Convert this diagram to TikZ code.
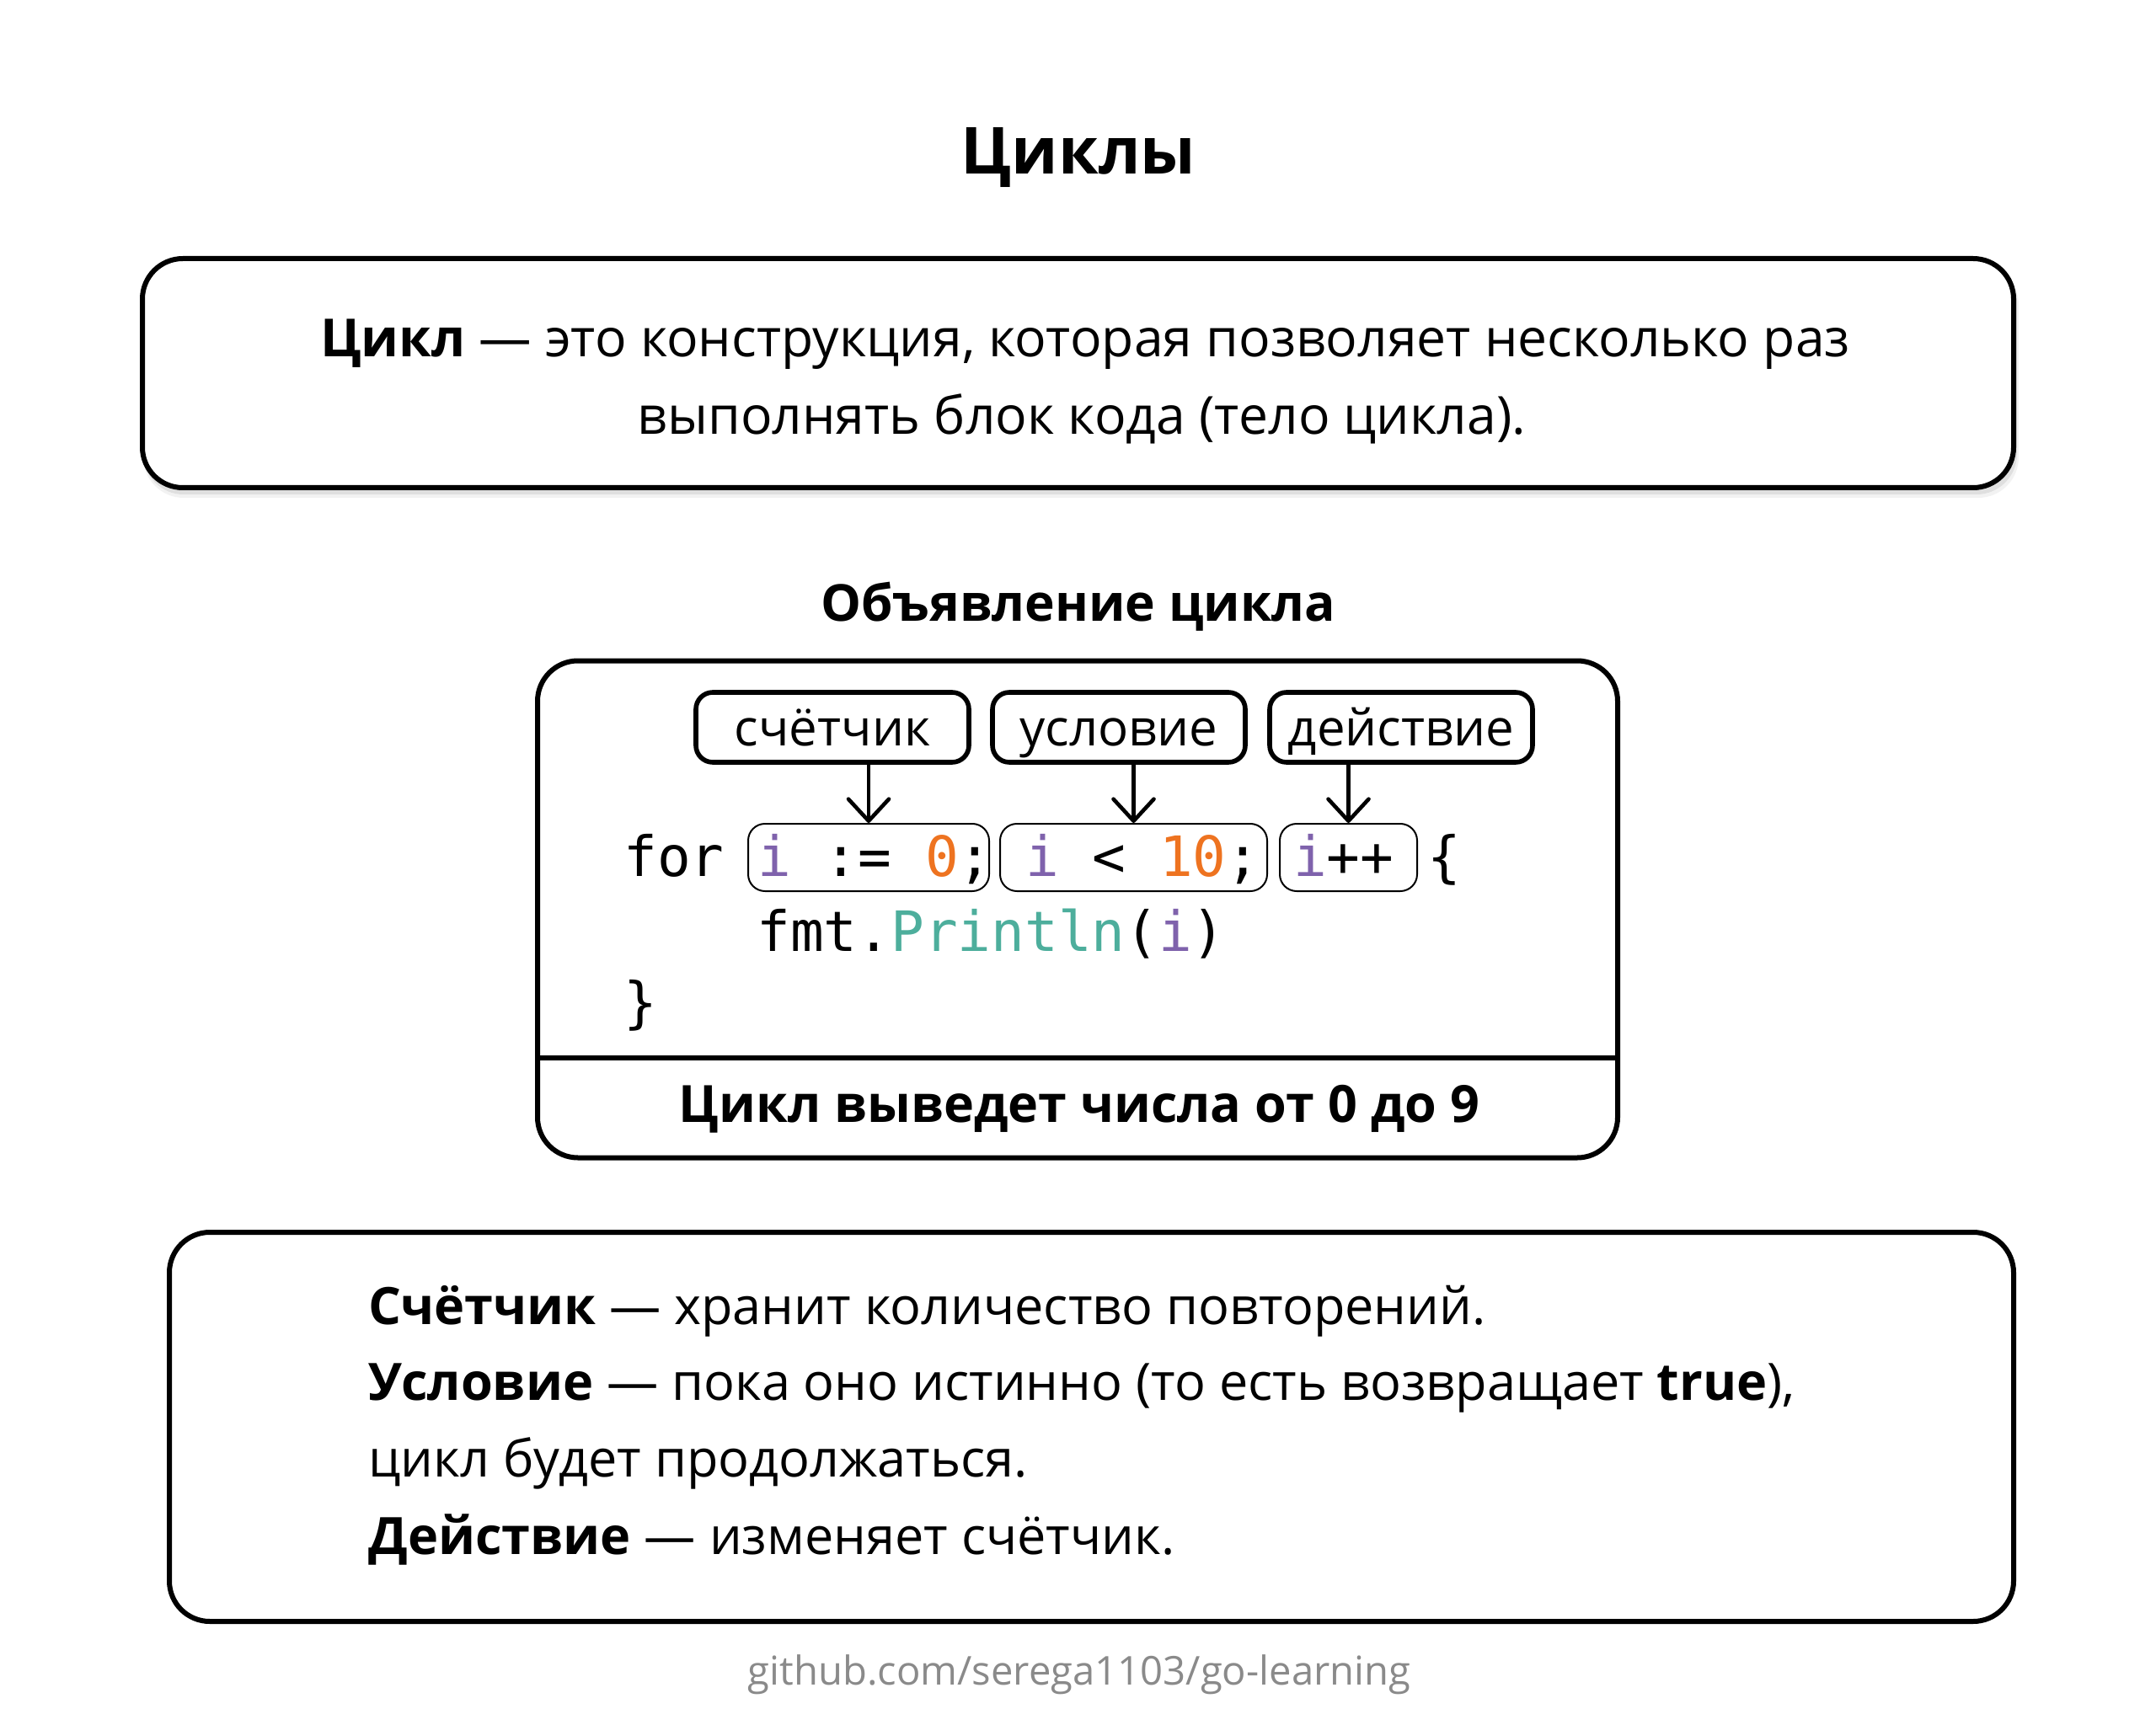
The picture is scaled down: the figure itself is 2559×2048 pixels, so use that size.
\documentclass[tikz,border=0pt]{standalone}
\usepackage{fontspec}
\setmainfont{Open Sans}
\newfontfamily\codefont{DejaVu Sans Mono}
\usetikzlibrary{arrows.meta}
\definecolor{cpurple}{HTML}{7F62AC}
\definecolor{corange}{HTML}{EE7320}
\definecolor{cteal}{HTML}{4DAE9C}
\definecolor{cgray}{HTML}{8A8A8A}
\begin{document}
\begin{tikzpicture}[x=0.5pt,y=-0.5pt,
  bigbox/.style={draw=black,line width=3pt,rounded corners=24pt,fill=white,inner sep=0pt},
  lblbox/.style={draw=black,line width=2.8pt,rounded corners=10pt,inner sep=0pt,minimum height=41.5pt},
  pill/.style={draw=black,line width=1pt,rounded corners=10pt,inner sep=0pt,minimum height=40pt},
  arr/.style={line width=2.3pt,-{Straight Barb[length=13pt,width=24pt,line width=2.3pt,round]}},
  txt/.style={inner sep=0pt,anchor=base,font=\fontsize{31.2}{37}\selectfont},
  btxt/.style={inner sep=0pt,anchor=base west,font=\fontsize{30.6}{37}\selectfont},
  lbl/.style={inner sep=0pt,anchor=base,font=\fontsize{30}{36}\selectfont},
  code/.style={inner sep=0pt,anchor=base west,font=\codefont\fontsize{33}{40}\selectfont}]
\useasboundingbox (0,0) rectangle (2559,2048);
\fill[white] (0,0) rectangle (2559,2048);
% title
\node[inner sep=0pt,anchor=base,font=\bfseries\fontsize{38.5}{46}\selectfont] (title) at (1280,207) {Циклы};
% top box with soft shadow
\fill[black,opacity=0.05,rounded corners=24pt] (170,314) rectangle (2396,591);
\fill[black,opacity=0.08,rounded corners=24pt] (170,311) rectangle (2394,587);
\node[bigbox,minimum width=1110.5pt,minimum height=136pt] (topbox) at (1279.5,443) {};
\node[txt] (t1) at (1288,424) {\textbf{Цикл} — это конструкция, которая позволяет несколько раз};
\node[txt] (t2) at (1284,516) {выполнять блок кода (тело цикла).};
% section title
\node[inner sep=0pt,anchor=base,font=\bfseries\fontsize{30.2}{36}\selectfont] (sect) at (1280,737) {Объявление цикла};
% code box
\node[bigbox,minimum width=641pt,minimum height=295pt] (codebox) at (1279,1079.5) {};
\coordinate (sepy) at (0,1256);
\draw[line width=3pt] (codebox.west |- sepy) -- (codebox.east |- sepy);
\node[inner sep=0pt,anchor=base,font=\bfseries\fontsize{30.5}{36}\selectfont] (result) at (1281,1332) {Цикл выведет числа от 0 до 9};
% labels
\node[lblbox,minimum width=162pt] (l1) at (988,863.5) {};
\node[lblbox,minimum width=150pt] (l2) at (1328,863.5) {};
\node[lblbox,minimum width=156pt] (l3) at (1663,863.5) {};
\node[lbl] (l1t) at (988,885) {счётчик};
\node[lbl] (l2t) at (1328,885) {условие};
\node[lbl] (l3t) at (1663,885) {действие};
% pills
\node[pill,minimum width=143pt] (p1) at (1031,1018) {};
\node[pill,minimum width=158.5pt] (p2) at (1345.5,1018) {};
\node[pill,minimum width=81.5pt] (p3) at (1600.5,1018) {};
\draw[arr] (p1.north |- l1.south) -- (p1.north);
\draw[arr] (p2.north |- l2.south) -- (p2.north);
\draw[arr] (p3.north |- l3.south) -- (p3.north);
% code
\node[code] (c1) at (740,1040) {for \textcolor{cpurple}{i} := \textcolor{corange}{0}; \textcolor{cpurple}{i} < \textcolor{corange}{10}; \textcolor{cpurple}{i}++ \{};
\node[code] (c2) at (898,1129) {fmt.\textcolor{cteal}{Println}(\textcolor{cpurple}{i})};
\node[code] (c3) at (740,1213) {\}};
% bottom box
\node[bigbox,minimum width=1094.5pt,minimum height=231pt] (botbox) at (1295.5,1694) {};
\node[btxt] (b1) at (437,1572) {\textbf{Счётчик} — хранит количество повторений.};
\node[btxt] (b2) at (437,1662) {\textbf{Условие} — пока оно истинно (то есть возвращает \textbf{true}),};
\node[btxt] (b3) at (437,1753) {цикл будет продолжаться.};
\node[btxt] (b4) at (437,1845) {\textbf{Действие} — изменяет счётчик.};
% footer
\node[inner sep=0pt,anchor=base,text=cgray,font=\fontsize{23.6}{30}\selectfont] (foot) at (1281,2000) {github.com/serega1103/go-learning};
\end{tikzpicture}
\end{document}
